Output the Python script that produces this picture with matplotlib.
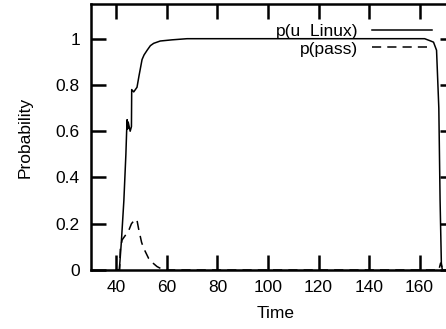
import matplotlib
matplotlib.use("Agg")
import matplotlib.pyplot as plt
from matplotlib.ticker import FixedLocator, FuncFormatter

plt.rcParams['font.family'] = ['Liberation Sans', 'DejaVu Sans']

# p(u_Linux)
t_linux = [40, 41.2, 42.0, 43.0, 43.8, 44.1, 44.3, 44.5, 44.7, 45.5, 46.0, 46.1, 46.9,
           48.2, 49.0, 50.2, 51.0, 52.2, 53.5, 54.8, 57.4, 62.0, 68.0, 162.0, 164.4,
           165.5, 166.7, 167.6, 168.1, 168.6, 169.0, 174.0]
p_linux = [0.0, 0.0, 0.12, 0.30, 0.50, 0.60, 0.65, 0.61, 0.64, 0.60, 0.62, 0.78, 0.77,
           0.79, 0.84, 0.91, 0.93, 0.95, 0.97, 0.98, 0.99, 0.995, 1.0, 1.0, 0.99,
           0.985, 0.95, 0.70, 0.30, 0.03, 0.0, 0.0]

# p(pass)
t_pass = [40, 41.3, 41.6, 42.3, 43.6, 44.9, 46.0, 47.5, 48.2, 48.8, 50.0, 50.8, 52.8,
          54.5, 56.1, 58.7, 166.0, 167.6, 168.3, 169.2, 174.0]
p_pass = [0.0, 0.0, 0.09, 0.13, 0.15, 0.17, 0.20, 0.22, 0.215, 0.18, 0.12, 0.095, 0.05,
          0.03, 0.015, 0.0, 0.0, 0.0, 0.03, 0.0, 0.0]

x_ticks = [40, 60, 80, 100, 120, 140, 160]
y_ticks = [0, 0.2, 0.4, 0.6, 0.8, 1]

FS = 12.5
fig = plt.figure(figsize=(4.46, 3.29), dpi=100)
W, H = 446, 329
AW, AH = 455 - 91, 270 - 4
ax = fig.add_axes([91 / W, 1 - 270 / H, AW / W, AH / H])

ax.plot(t_linux, p_linux, color='black', lw=1.1, label='p(u_Linux)')
ax.plot(t_pass, p_pass, color='black', lw=1.1, dashes=(6, 4), label='p(pass)')

ax.set_xlim(30, 174)
ax.set_ylim(0, 1.15)
ax.xaxis.set_major_locator(FixedLocator(x_ticks))
ax.yaxis.set_major_locator(FixedLocator(y_ticks))
ax.yaxis.set_major_formatter(FuncFormatter(lambda v, p: '%g' % v))
ax.tick_params(direction='in', length=10.5, width=1.8, top=True, right=True,
               labelsize=FS)
ax.tick_params(axis='x', pad=7)
ax.tick_params(axis='y', pad=8)
for s in ax.spines.values():
    s.set_linewidth(1.8)

ax.set_xlabel('Time', fontsize=FS)
ax.set_ylabel('Probability', fontsize=FS)
ax.xaxis.set_label_coords((276 - 91) / AW, -(306 - 270) / AH)
ax.yaxis.set_label_coords(-(91 - 33) / AW, 0.5)

leg = ax.legend(loc='upper right', bbox_to_anchor=((432 - 91) / AW, (270 - 24) / AH),
                frameon=False, markerfirst=False, fontsize=FS, handlelength=3.45,
                handletextpad=0.8, labelspacing=0.12, borderpad=0, borderaxespad=0)

fig.savefig('out.png', dpi=100)
